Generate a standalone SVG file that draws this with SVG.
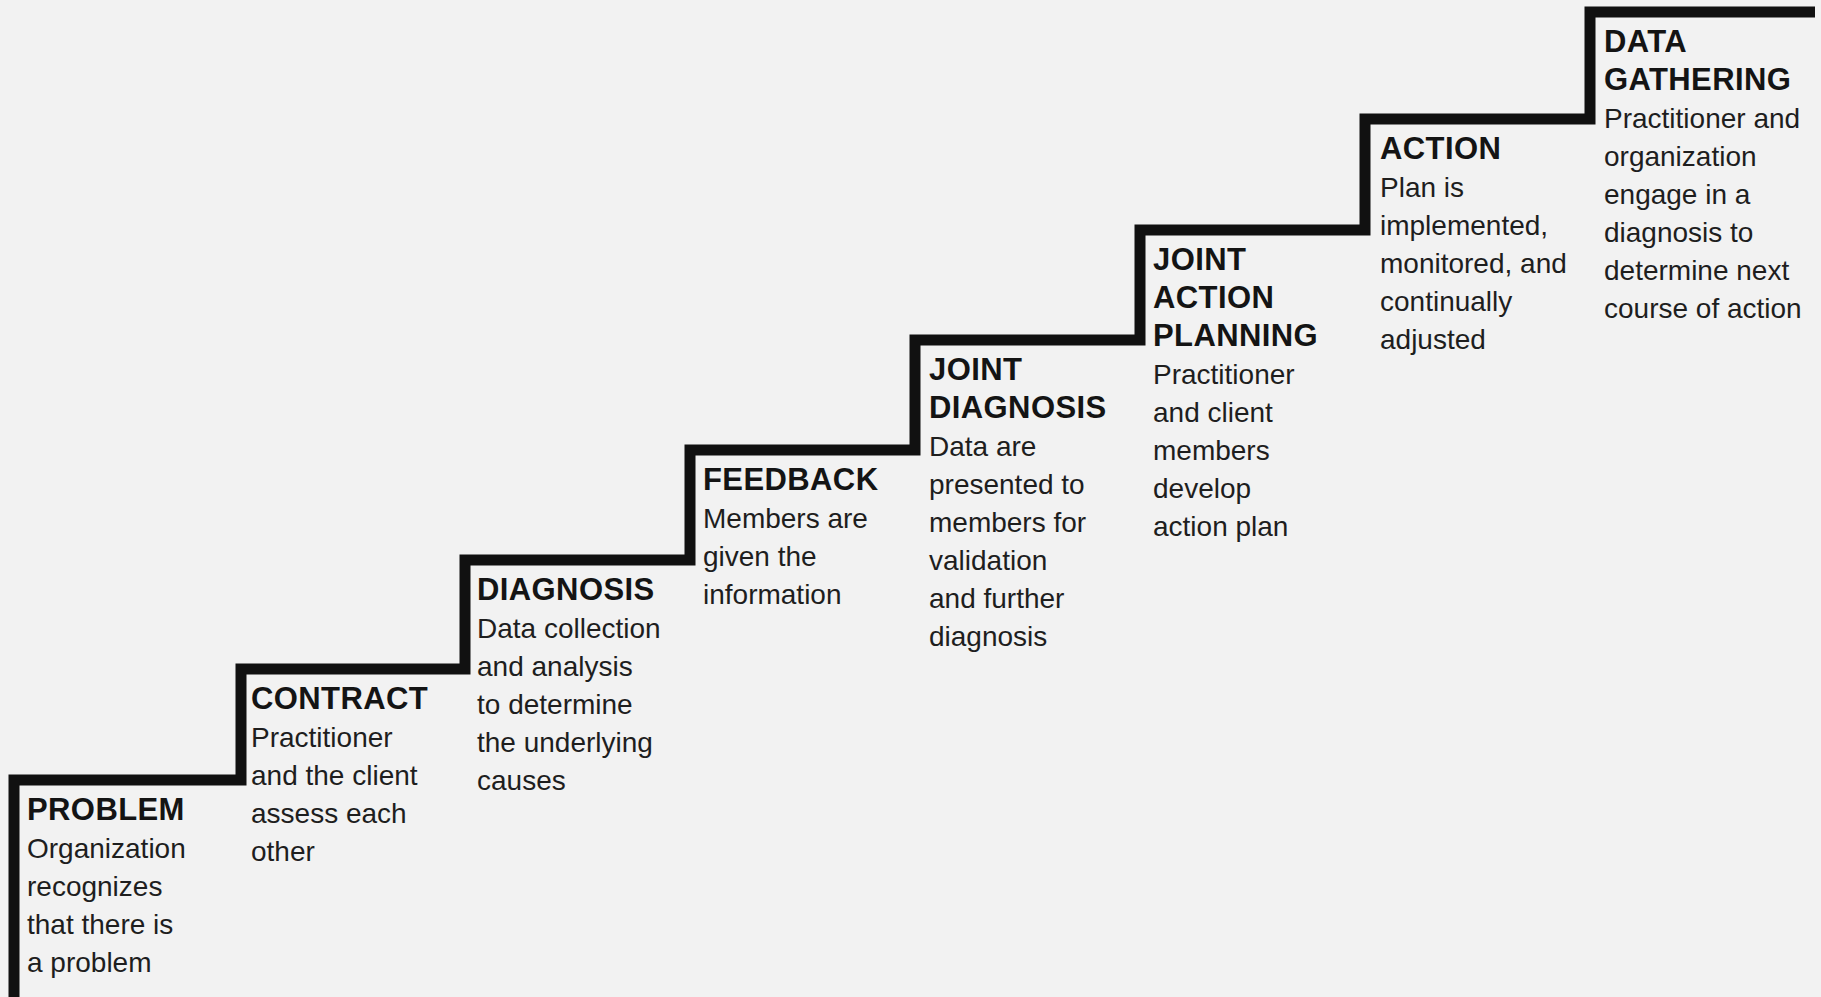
<svg xmlns="http://www.w3.org/2000/svg" width="1821" height="997" viewBox="0 0 1821 997">
<style>
.h{font-family:"Liberation Sans",Arial,sans-serif;font-weight:bold;font-size:31px;letter-spacing:0.4px;fill:#141414}
.b{font-family:"Liberation Sans",Arial,sans-serif;font-size:28px;fill:#1e1e1e}
.stair{fill:none;stroke:#111;stroke-width:11;stroke-linejoin:miter;stroke-linecap:butt}
</style>
<rect x="0" y="0" width="1821" height="997" fill="#f2f2f2"/>
<g id="connectors">
<polyline class="stair" points="14,997 14,780 241,780 241,669 465,669 465,560 690,560 690,450 915,450 915,340 1140,340 1140,230 1365,230 1365,119 1590,119 1590,12 1815,12"/>
</g>
<g id="problem" transform="translate(0,-2)">
<text class="h" x="27" y="822">PROBLEM</text>
<text class="b" x="27" y="860">Organization</text>
<text class="b" x="27" y="898">recognizes</text>
<text class="b" x="27" y="936">that there is</text>
<text class="b" x="27" y="974">a problem</text>
</g>
<g id="contract" transform="translate(0,-2)">
<text class="h" x="251" y="711">CONTRACT</text>
<text class="b" x="251" y="749">Practitioner</text>
<text class="b" x="251" y="787">and the client</text>
<text class="b" x="251" y="825">assess each</text>
<text class="b" x="251" y="863">other</text>
</g>
<g id="diagnosis" transform="translate(0,-2)">
<text class="h" x="477" y="602">DIAGNOSIS</text>
<text class="b" x="477" y="640">Data collection</text>
<text class="b" x="477" y="678">and analysis</text>
<text class="b" x="477" y="716">to determine</text>
<text class="b" x="477" y="754">the underlying</text>
<text class="b" x="477" y="792">causes</text>
</g>
<g id="feedback" transform="translate(0,-2)">
<text class="h" x="703" y="492">FEEDBACK</text>
<text class="b" x="703" y="530">Members are</text>
<text class="b" x="703" y="568">given the</text>
<text class="b" x="703" y="606">information</text>
</g>
<g id="joint-diagnosis" transform="translate(0,-2)">
<text class="h" x="929" y="382">JOINT</text>
<text class="h" x="929" y="420">DIAGNOSIS</text>
<text class="b" x="929" y="458">Data are</text>
<text class="b" x="929" y="496">presented to</text>
<text class="b" x="929" y="534">members for</text>
<text class="b" x="929" y="572">validation</text>
<text class="b" x="929" y="610">and further</text>
<text class="b" x="929" y="648">diagnosis</text>
</g>
<g id="joint-action-planning" transform="translate(0,-2)">
<text class="h" x="1153" y="272">JOINT</text>
<text class="h" x="1153" y="310">ACTION</text>
<text class="h" x="1153" y="348">PLANNING</text>
<text class="b" x="1153" y="386">Practitioner</text>
<text class="b" x="1153" y="424">and client</text>
<text class="b" x="1153" y="462">members</text>
<text class="b" x="1153" y="500">develop</text>
<text class="b" x="1153" y="538">action plan</text>
</g>
<g id="action" transform="translate(0,-2)">
<text class="h" x="1380" y="161">ACTION</text>
<text class="b" x="1380" y="199">Plan is</text>
<text class="b" x="1380" y="237">implemented,</text>
<text class="b" x="1380" y="275">monitored, and</text>
<text class="b" x="1380" y="313">continually</text>
<text class="b" x="1380" y="351">adjusted</text>
</g>
<g id="data-gathering" transform="translate(0,-2)">
<text class="h" x="1604" y="54">DATA</text>
<text class="h" x="1604" y="92">GATHERING</text>
<text class="b" x="1604" y="130">Practitioner and</text>
<text class="b" x="1604" y="168">organization</text>
<text class="b" x="1604" y="206">engage in a</text>
<text class="b" x="1604" y="244">diagnosis to</text>
<text class="b" x="1604" y="282">determine next</text>
<text class="b" x="1604" y="320">course of action</text>
</g>
</svg>
